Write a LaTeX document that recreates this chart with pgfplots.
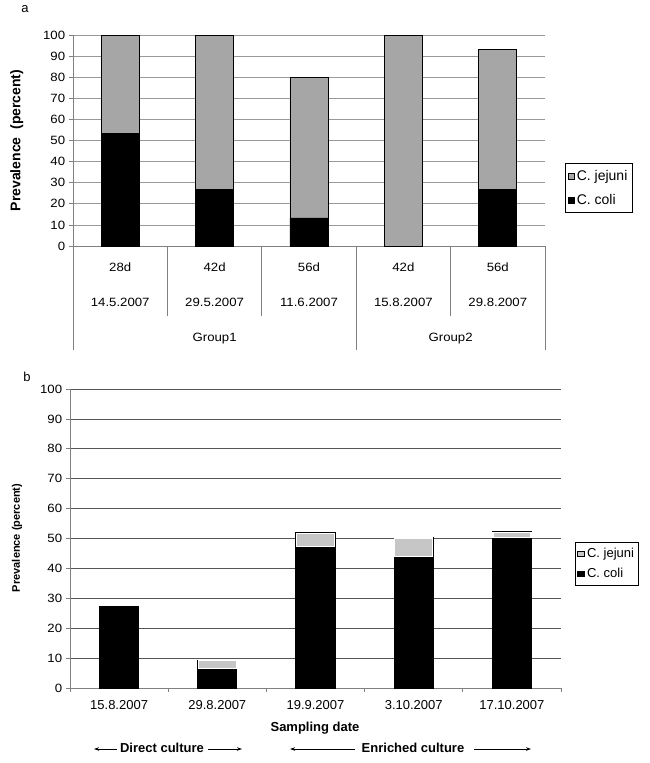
\documentclass[border=0pt]{standalone}
\usepackage{pgfplots}
\pgfplotsset{compat=1.18}
\usepackage{pgfplotstable}
\usepackage{fontspec}
\setmainfont{Liberation Sans}
\usetikzlibrary{arrows.meta}
\definecolor{jejA}{HTML}{A6A6A6}
\definecolor{jejB}{HTML}{C6C6C6}
\definecolor{gridA}{HTML}{999999}
\definecolor{gridB}{HTML}{555555}
\definecolor{axisc}{HTML}{808080}

\pgfplotstableread{
x coli jejuni
0 53.3 46.7
1 26.7 73.3
2 13.3 66.7
3 0 100
4 26.7 66.6
}\tabA
\pgfplotstableread{
x coli jejuni
0 27.0 0
1 6.6 2.5
2 47.3 4.4
3 44.0 6.2
4 50.4 1.7
}\tabB
% the four bars that have a C. jejuni part (for its white inner border)
\pgfplotstableread{
x coli jejuni
1 6.6 2.5
2 47.3 4.4
3 44.0 6.2
4 50.4 1.7
}\tabBj

\tikzset{lab/.style={font=\fontsize{12}{14}\selectfont, xscale=1.1}}

\begin{document}
\begin{tikzpicture}[x=1pt,y=1pt]
\useasboundingbox (0pt,0pt) rectangle (650pt,-763pt);
\node[font=\fontsize{13}{15}\selectfont] at (25pt,-9pt) {a};
\node[font=\fontsize{13}{15}\selectfont] at (27pt,-377pt) {b};

% ---------------- panel a
\begin{axis}[
  at={(73pt,-246pt)}, anchor=south west, scale only axis,
  width=472pt, height=211pt,
  xmin=-0.5, xmax=4.5, ymin=0, ymax=100,
  ybar stacked, bar width=38pt,
  xtick=\empty, ytick={0,10,...,100},
  axis x line*=bottom, axis y line*=left,
  axis line style={axisc, line width=0.8pt, -},
  ymajorgrids, grid style={gridA, line width=0.8pt},
  tick align=outside, major tick length=4pt,
  ytick style={axisc, line width=0.8pt},
  yticklabel style={font=\fontsize{12}{14}\selectfont, xscale=1.1},
  /pgf/number format/assume math mode=true,
  ylabel={Prevalence\ \ (percent)},
  every axis y label/.style={at={(axis description cs:-0.119,0.5)}, rotate=90, anchor=center, font=\bfseries\fontsize{14}{16}\selectfont},
  legend style={at={(axis description cs:1.0424,0.393)}, anchor=north west, draw=black, line width=0.6pt, font=\fontsize{14}{16}\selectfont, inner xsep=3pt, inner ysep=5pt, row sep=8pt, cells={anchor=west}},
  legend image code/.code={\draw[#1, line width=0.5pt] (0pt,-3pt) rectangle (6pt,3pt);},
  reverse legend,
  clip=false,
]
\addplot[fill=black, draw=black, line width=0.7pt] table[x=x,y=coli]{\tabA};
\addplot[fill=jejA, draw=black, line width=0.7pt] table[x=x,y=jejuni]{\tabA};
\legend{C. coli, C. jejuni}
\node[lab] at (axis cs:0,0) [yshift=-21pt] {28d};
\node[lab] at (axis cs:1,0) [yshift=-21pt] {42d};
\node[lab] at (axis cs:2,0) [yshift=-21pt] {56d};
\node[lab] at (axis cs:3,0) [yshift=-21pt] {42d};
\node[lab] at (axis cs:4,0) [yshift=-21pt] {56d};
\node[lab] at (axis cs:0,0) [yshift=-56pt] {14.5.2007};
\node[lab] at (axis cs:1,0) [yshift=-56pt] {29.5.2007};
\node[lab] at (axis cs:2,0) [yshift=-56pt] {11.6.2007};
\node[lab] at (axis cs:3,0) [yshift=-56pt] {15.8.2007};
\node[lab] at (axis cs:4,0) [yshift=-56pt] {29.8.2007};
\node[lab] at (axis cs:1,0) [yshift=-93pt] {Group1};
\node[lab] at (axis cs:3.5,0) [yshift=-93pt] {Group2};
\draw[axisc, line width=0.8pt] (axis cs:-0.5,0) -- ++(0pt,-104pt);
\draw[axisc, line width=0.8pt] (axis cs:2.5,0) -- ++(0pt,-104pt);
\draw[axisc, line width=0.8pt] (axis cs:4.5,0) -- ++(0pt,-104pt);
\draw[axisc, line width=0.8pt] (axis cs:0.5,0) -- ++(0pt,-70pt);
\draw[axisc, line width=0.8pt] (axis cs:1.5,0) -- ++(0pt,-70pt);
\draw[axisc, line width=0.8pt] (axis cs:3.5,0) -- ++(0pt,-70pt);
\end{axis}

% ---------------- panel b
\begin{axis}[
  at={(70pt,-688pt)}, anchor=south west, scale only axis,
  width=491pt, height=299pt,
  xmin=-0.5, xmax=4.5, ymin=0, ymax=100,
  ybar stacked, bar width=38pt,
  xtick={-0.5,0.5,...,4.5}, x tick label as interval,
  xticklabels={15.8.2007,29.8.2007,19.9.2007,3.10.2007,17.10.2007},
  ytick={0,10,...,100},
  axis x line*=bottom, axis y line*=left,
  axis line style={axisc, line width=0.8pt, -},
  ymajorgrids, grid style={gridB, line width=0.8pt},
  tick align=outside, major tick length=4pt,
  tick style={axisc, line width=0.8pt},
  yticklabel style={font=\fontsize{12}{14}\selectfont, xscale=1.1},
  xticklabel style={font=\fontsize{13}{15}\selectfont, yshift=-5pt},
  /pgf/number format/assume math mode=true,
  ylabel={Prevalence (percent)},
  every axis y label/.style={at={(axis description cs:-0.108,0.502)}, rotate=90, anchor=center, font=\bfseries\fontsize{11}{13}\selectfont},
  xlabel={Sampling date},
  every axis x label/.style={at={(axis description cs:0.499,-0.134)}, anchor=center, font=\bfseries\fontsize{13}{15}\selectfont},
  legend style={at={(axis description cs:1.0285,0.488)}, anchor=north west, draw=black, line width=0.6pt, font=\fontsize{13}{15}\selectfont, inner xsep=2pt, inner ysep=4pt, row sep=5pt, cells={anchor=west}},
  legend image code/.code={\draw[#1, line width=0.8pt] (0pt,-2.5pt) rectangle (7pt,2.5pt);},
  reverse legend,
  clip=false,
]
\addplot[fill=black, draw=black, line width=2.2pt] table[x=x,y=coli]{\tabB};
\addplot[fill=jejB, draw=black, line width=2.2pt] table[x=x,y=jejuni]{\tabB};
\legend{C. coli, C. jejuni}
\end{axis}
% overlay axis: white inner border of the C. jejuni segments
\begin{axis}[
  at={(70pt,-688pt)}, anchor=south west, scale only axis,
  width=491pt, height=299pt,
  xmin=-0.5, xmax=4.5, ymin=0, ymax=100,
  ybar stacked, bar width=38pt,
  hide axis, clip=false,
]
\addplot[fill=none, draw=none] table[x=x,y=coli]{\tabBj};
\addplot[fill=jejB, draw=white, line width=1.2pt] table[x=x,y=jejuni]{\tabBj};
\end{axis}

\begin{scope}[font=\bfseries\fontsize{13}{15}\selectfont]
\node at (162pt,-748pt) {Direct culture};
\node at (413pt,-748pt) {Enriched culture};
\end{scope}
\begin{scope}[line width=0.9pt, -{Stealth[length=5pt,width=3.5pt]}]
\draw (117pt,-749pt) -- (94pt,-749pt);
\draw (208pt,-749pt) -- (242pt,-749pt);
\draw (355pt,-749pt) -- (290pt,-749pt);
\draw (474pt,-749pt) -- (531pt,-749pt);
\end{scope}
\end{tikzpicture}
\end{document}
